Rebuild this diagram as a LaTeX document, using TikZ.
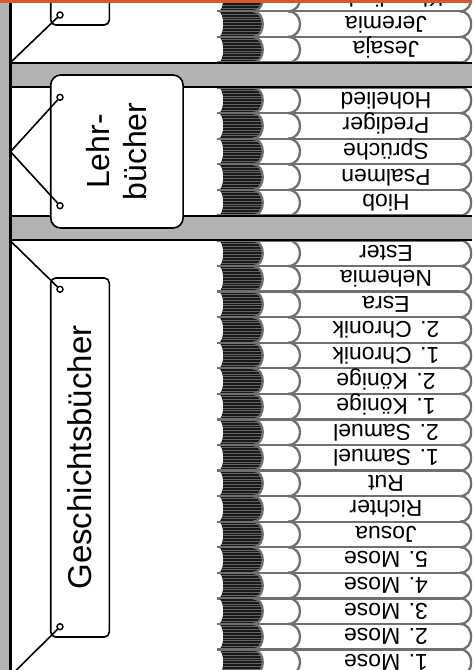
\documentclass[tikz,border=0pt]{standalone}
\usepackage{fontspec}
\setmainfont{Liberation Sans}
\definecolor{shelfgray}{RGB}{179,179,179}
\definecolor{spinegray}{RGB}{112,112,112}
\definecolor{stripegray}{RGB}{100,100,100}
\definecolor{pageblack}{RGB}{25,25,25}
\definecolor{topbar}{RGB}{214,88,46}
\tikzset{
  booktitle/.style={anchor=base, rotate=180, inner sep=0pt, font=\fontsize{23}{27}\selectfont},
  spineline/.style={draw=spinegray, line width=2.3pt},
  tagbox/.style={draw=black, line width=1.6pt, fill=white, rotate=90, inner sep=0pt, align=center},
  pinhead/.style={circle, draw=black, fill=white, line width=1.4pt, inner sep=0pt, minimum size=6pt},
  cord/.style={draw=black, line width=1.6pt},
  shelfline/.style={draw=black, line width=2pt}
}
\newcommand\onebook[3]{%
  \pgfmathsetmacro\ya{#1}%
  \pgfmathsetmacro\yb{#1+25.6}%
  \pgfmathsetmacro\ym{#1+12.8}%
  \pgfmathsetmacro\yt{#1+12.8-8.1}%
  \begin{scope}
    \path[clip] (218,\ya) -- (253,\ya) .. controls (266,\ya) and (266,\yb) .. (253,\yb) -- (218,\yb) .. controls (225,\yb) and (225,\ya) .. (218,\ya) -- cycle;
    \fill[pageblack] (210,\ya) rectangle (270,\yb);
    \foreach \k in {1,...,8} {
      \pgfmathsetmacro\ys{\ya+\k*2.84}
      \draw[stripegray, line width=0.9pt] (210,\ys) -- (270,\ys);
    }
  \end{scope}
  \draw[spineline] (217,\ya) -- (460,\ya);
  \draw[spineline] (217,\yb) -- (460,\yb);
  \draw[spineline] (253,\ya) .. controls (266,\ya) and (266,\yb) .. (253,\yb);
  \draw[spineline] (288,\ya) .. controls (304,\ya) and (304,\yb) .. (288,\yb);
  \draw[spineline] (460,\ya) .. controls (475,\ya) and (475,\yb) .. (460,\yb);
  \node[booktitle] (#3) at (386,\yt) {#2};
}
\begin{document}
\begin{tikzpicture}[x=1pt,y=-1pt]
\useasboundingbox (0,0) rectangle (472,670);
\clip (0,0) rectangle (472,670);
\fill[white] (0,0) rectangle (472,670);

% top section
\onebook{-14.3}{Klagelieder}{bkKla}
\onebook{11.3}{Jeremia}{bkJer}
\onebook{36.9}{Jesaja}{bkJes}

% middle section
\onebook{87.5}{Hohelied}{bkHoh}
\onebook{113.1}{Prediger}{bkPre}
\onebook{138.7}{Sprüche}{bkSpr}
\onebook{164.3}{Psalmen}{bkPs}
\onebook{189.9}{Hiob}{bkHi}

% bottom section
\foreach \t [count=\i from 0] in {Ester,Nehemia,Esra,2. Chronik,1. Chronik,2. Könige,1. Könige,2. Samuel,1. Samuel,Rut,Richter,Josua,5. Mose,4. Mose,3. Mose,2. Mose,1. Mose} {
  \pgfmathsetmacro\yy{240.5+25.56*\i}
  \onebook{\yy}{\t}{bkG\i}
}

% shelves
\fill[shelfgray] (10,62.5) rectangle (472,86.5);
\draw[shelfline] (10,62.5) -- (472,62.5);
\draw[shelfline] (10,86.5) -- (472,86.5);
\fill[shelfgray] (10,216) rectangle (472,240);
\draw[shelfline] (10,216) -- (472,216);
\draw[shelfline] (10,240) -- (472,240);

% left wall
\fill[shelfgray] (0,0) rectangle (9.5,670);
\draw[black, line width=2.5pt] (10.5,0) -- (10.5,670);

% tags
\node[tagbox, minimum width=70pt, minimum height=58.6pt, rounded corners=5pt] (tagTop) at (80,-10) {};
\node[tagbox, minimum width=153pt, minimum height=132.3pt, rounded corners=10pt, font=\fontsize{32}{37}\selectfont] (tagLehr) at (116.9,151.5) {Lehr-\\bücher};
\node[tagbox, minimum width=359pt, minimum height=58.6pt, rounded corners=5pt, font=\fontsize{33}{38}\selectfont] (tagGes) at (80,457.5) {Geschichtsbücher};

% hooks
\coordinate (hookA) at (10.5,62.5);
\coordinate (hookB) at (10.5,151.7);
\coordinate (hookC) at (10.5,241);
\coordinate (hookD) at (10.5,676);

% pins
\node[pinhead] (pinA) at (60,15) {};
\node[pinhead] (pinB1) at (60,97.3) {};
\node[pinhead] (pinB2) at (60,205.7) {};
\node[pinhead] (pinC1) at (60,289.3) {};
\node[pinhead] (pinC2) at (60,626.7) {};

\draw[cord] (hookA) -- (pinA);
\draw[cord] (hookB) -- (pinB1);
\draw[cord] (hookB) -- (pinB2);
\draw[cord] (hookC) -- (pinC1);
\draw[cord] (hookD) -- (pinC2);

% top bar
\fill[topbar] (0,0) rectangle (472,2.5);
\end{tikzpicture}
\end{document}
